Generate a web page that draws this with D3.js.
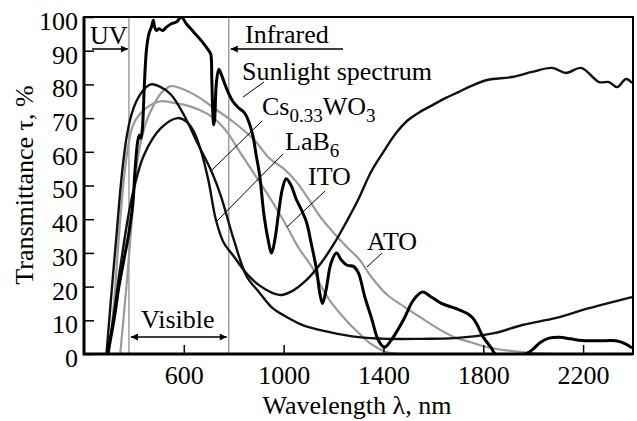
<!DOCTYPE html>
<html>
<head>
<meta charset="utf-8">
<script src="https://cdn.jsdelivr.net/npm/d3@7"></script>
<style>
body { margin: 0; background: #fff; }
svg { font-family: "Liberation Serif", "Times New Roman", serif; }
</style>
</head>
<body>
<svg id="chart" width="637" height="421"></svg>
<script>
// данные
var xTicks = [600, 1000, 1400, 1800, 2200];
var yTicks = [0, 10, 20, 30, 40, 50, 60, 70, 80, 90, 100];

var sunWl = [295,320,340,360,380,395,405,415,422,428, 434,442,450,460,470,478,483,490,500,515,
    530,550,570,590,610,640,670,700,708,712, 716,720,724,730,740,750,770,796,820,844,
    860,876,890,904,920,935,952,965,980,995, 1010,1030,1050,1070,1092,1110,1132,1145,1156,1170,
    1190,1212,1230,1252,1280,1300,1325,1352,1380,1404, 1430,1460,1484,1520,1556,1590,1632,1690,1736,1760,
    1776,1800,1832,1850,1970,2000,2030,2064,2104,2150, 2196,2260,2332,2370,2396];
var sunT = [0,10,20,28,36,44,55,63,65,64, 67,80,90,95,97,99,97,96,96.5,96,
    97,98,98.5,100,98,95.5,93,90,89,82, 72,68,70,80,84.5,83,79,75,73,71.5,
    69,65,59,53,42,35,30,34,42,49, 52,50,46,43,39,33,25,18,15,19,
    27,30,28,26.4,26,24,17,10.7,4,2, 4,7.5,10.7,16,18.4,17,15,13.5,12,10.5,
    8.6,5,1.8,0,0,1.5,3.5,4.7,5,4.5, 4,3.9,3.9,3,1.8];

var csWl = [290,310,330,350,370,390,410,440,468,500, 548,600,652,712,748,800,852,900,956,1000,
    1076,1184,1300,1416,1552,1684,1844,1956,2092,2224, 2396];
var csT = [0,18,35,52,64,71,75,78.5,80,79.5, 77,71,63,54,47,34,23,18.5,13.6,11.5,
    8.6,6.5,5,4.5,4.5,4.7,6.2,8.6,10.7,13.6, 16.9];

var lbWl = [295,320,340,360,380,400,440,508,575,610, 640,670,700,728,760,800,850,900,950,990,
    1030,1092,1150,1200,1250,1300,1350,1400,1450,1500, 1550,1600,1650,1700,1750,1816,1916,1996,2076,2132,
    2192,2264,2304,2336,2372,2396];
var lbT = [0,12,23,33,42,49,59,67,70,69, 66,60,51,40,33,29,24,20.5,18.3,17.5,
    18.5,22,27,32.5,39,46,54,60,65.5,69.5, 72,74,76,77.7,79.5,81.3,82.2,83.7,84.9,83.4,
    84.9,80.7,80.7,79.2,81.6,80.4];

var itoWl = [300,320,340,360,380,400,450,508,560,600, 664,720,772,824,904,960,1012,1060,1116,1144,
    1184,1250,1276,1304,1350,1412,1480];
var itoT = [0,15,35,52,63,68.5,73,75,74.5,74, 72.4,70,66,60,51,44.5,38,31.5,25.5,21,
    16,10,8,6,3,0.6,0];

var atoWl = [345,370,390,400,420,450,470,510,548,600, 664,720,796,876,944,1000,1052,1100,1144,1200,
    1250,1304,1350,1416,1484,1552,1620,1684,1750,1816, 1900,2000,2100];
var atoT = [0,20,38,48,60,69,72.5,77.5,79.5,78.5, 76,73,69,64,58,55,51,46,41,36,
    32,28,23,17.5,14,10.7,7.5,5,3.5,2, 1,0.3,0];

var uvEdge = 380;
var irEdge = 780;

//константы области построения
var plotLeft = 84, plotTop = 17, plotRight = 633, plotBottom = 354;
var fontSize = 26;

var svg = d3.select("#chart");

var x = d3.scaleLinear().domain([200, 2400]).range([plotLeft, plotRight]);
var y = d3.scaleLinear().domain([0, 100]).range([plotBottom, plotTop]);

var defs = svg.append("defs");
defs.append("clipPath").attr("id", "plot")
    .append("rect")
    .attr("x", plotLeft).attr("y", plotTop)
    .attr("width", plotRight - plotLeft).attr("height", plotBottom - plotTop);

defs.append("marker")
    .attr("id", "head")
    .attr("viewBox", "0 0 10 10")
    .attr("refX", 10).attr("refY", 5)
    .attr("markerWidth", 9).attr("markerHeight", 7)
    .attr("markerUnits", "userSpaceOnUse")
    .attr("orient", "auto-start-reverse")
    .append("path")
    .attr("d", "M0 0 L10 5 L0 10 Z")
    .attr("fill", "black");

// границы диапазонов
[uvEdge, irEdge].forEach(function(v) {
    svg.append("line")
        .attr("x1", x(v)).attr("x2", x(v))
        .attr("y1", plotTop).attr("y2", plotBottom)
        .attr("stroke", "#a0a0a0")
        .attr("stroke-width", 1.5);
});

function drawCurve(wl, t, color, width) {
    var pts = wl.map(function(d, i) { return [d, t[i]]; });
    var line = d3.line()
        .x(function(d) { return x(d[0]); })
        .y(function(d) { return y(d[1]); })
        .curve(d3.curveCatmullRom.alpha(0.5));
    svg.append("path")
        .attr("d", line(pts))
        .attr("fill", "none")
        .attr("stroke", color)
        .attr("stroke-width", width)
        .attr("stroke-linejoin", "round")
        .attr("clip-path", "url(#plot)");
}

drawCurve(itoWl, itoT, "#9a9a9a", 2.2);
drawCurve(atoWl, atoT, "#9a9a9a", 2.2);
drawCurve(lbWl, lbT, "#111", 2.4);
drawCurve(csWl, csT, "#111", 2.4);
drawCurve(sunWl, sunT, "#000", 3);

// оси
var xAxis = d3.axisBottom(x).tickValues(xTicks).tickFormat(d3.format("d"))
    .tickSize(-9).tickSizeOuter(0).tickPadding(12);
var gx = svg.append("g").attr("transform", "translate(0," + plotBottom + ")").call(xAxis);

var yAxis = d3.axisLeft(y).tickValues(yTicks).tickFormat(d3.format("d"))
    .tickSize(-10).tickSizeOuter(0).tickPadding(6);
var gy = svg.append("g").attr("transform", "translate(" + plotLeft + ",0)").call(yAxis);

[gx, gy].forEach(function(g) {
    g.select(".domain").remove();
    g.selectAll(".tick line").attr("stroke", "black").attr("stroke-width", 1.5);
    g.selectAll("text")
        .attr("font-family", "Liberation Serif, serif")
        .attr("font-size", fontSize)
        .attr("fill", "black");
});
gy.selectAll("text").attr("dy", "0.48em");

svg.append("rect")
    .attr("x", plotLeft).attr("y", plotTop)
    .attr("width", plotRight - plotLeft).attr("height", plotBottom - plotTop)
    .attr("fill", "none")
    .attr("stroke", "black")
    .attr("stroke-width", 2);
svg.append("path")
    .attr("d", "M" + plotLeft + " " + plotTop + " V" + plotBottom + " H" + plotRight)
    .attr("fill", "none")
    .attr("stroke", "black")
    .attr("stroke-width", 3);

// подписи осей
svg.append("text")
    .attr("x", 357).attr("y", 414)
    .attr("text-anchor", "middle")
    .attr("font-size", fontSize)
    .text("Wavelength λ, nm");

svg.append("text")
    .attr("transform", "translate(33,185) rotate(-90)")
    .attr("text-anchor", "middle")
    .attr("font-size", fontSize)
    .text("Transmittance τ, %");

function label(tx, ty, str) {
    return svg.append("text")
        .attr("x", tx).attr("y", ty)
        .attr("font-size", fontSize)
        .text(str);
}

function arrow(x1, y1, x2, y2, both) {
    var a = svg.append("line")
        .attr("x1", x1).attr("y1", y1)
        .attr("x2", x2).attr("y2", y2)
        .attr("stroke", "black")
        .attr("stroke-width", 1.5)
        .attr("marker-end", "url(#head)");
    if (both) a.attr("marker-start", "url(#head)");
}

function leader(x1, y1, x2, y2) {
    svg.append("line")
        .attr("x1", x1).attr("y1", y1)
        .attr("x2", x2).attr("y2", y2)
        .attr("stroke", "black")
        .attr("stroke-width", 1);
}

label(90, 44, "UV");
arrow(92, 49, x(uvEdge) - 1, 49, false);
label(245, 43, "Infrared");
arrow(343, 49, x(irEdge) + 2, 49, false);
label(141, 328, "Visible");
arrow(x(uvEdge) + 2, 337, x(irEdge) - 2, 337, true);

label(242, 80, "Sunlight spectrum");
leader(243, 97, 264, 82);

var cs = label(262, 115, "Cs");
cs.append("tspan").attr("font-size", 19).attr("dy", 7).text("0.33");
cs.append("tspan").attr("dy", -7).text("WO");
cs.append("tspan").attr("font-size", 19).attr("dy", 7).text("3");
leader(212, 170, 262, 121);

var lb = label(285, 150, "LaB");
lb.append("tspan").attr("font-size", 19).attr("dy", 7).text("6");
leader(216, 222, 283, 154);

label(308, 185, "ITO");
leader(287, 227, 325, 191);

label(367, 250, "ATO");
leader(367, 267, 382, 253);
</script>
</body>
</html>
